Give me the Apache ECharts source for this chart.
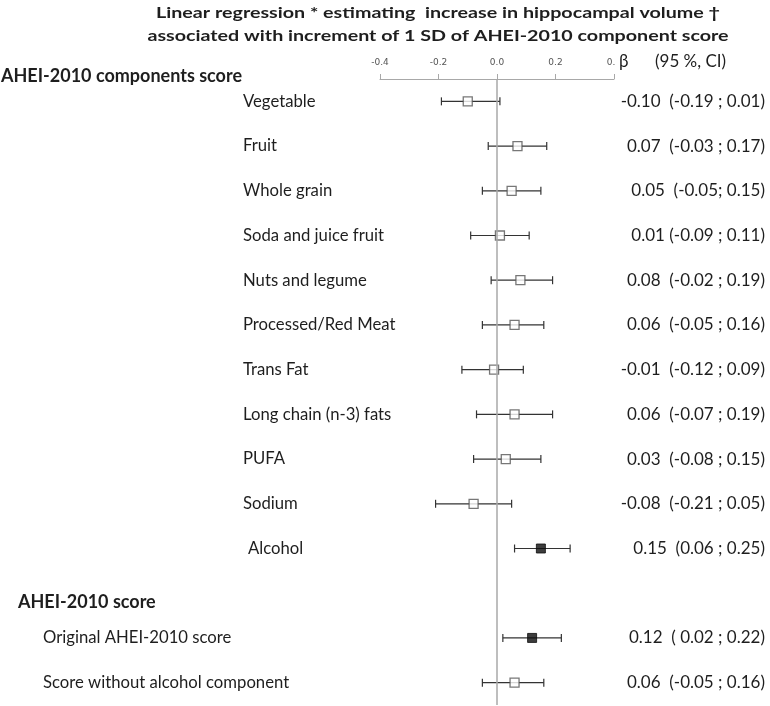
<!DOCTYPE html>
<html>
<head>
<meta charset="utf-8">
<script src="https://cdn.jsdelivr.net/npm/echarts@6/dist/echarts.min.js"></script>
<style>html,body{margin:0;padding:0;background:#fff;}#c{width:770px;height:706px;}</style>
</head>
<body>
<div id="c"></div>
<script>
// Row labels (category order, top to bottom)
var categories = ['Vegetable','Fruit','Whole grain','Soda and juice fruit','Nuts and legume','Processed/Red Meat','Trans Fat','Long chain (n-3) fats','PUFA','Sodium','Alcohol','AHEI-2010 score','Original AHEI-2010 score','Score without alcohol component'];
// Label style per row: c = component, a = alcohol, h = section header, o = overall score
var labelKinds = ['c','c','c','c','c','c','c','c','c','c','a','h','o','o'];
// Beta estimates and 95% CI
var beta  = [-0.10, 0.07, 0.05, 0.01, 0.08, 0.06, -0.01, 0.06, 0.03, -0.08, 0.15, null, 0.12, 0.06];
var lower = [-0.19,-0.03,-0.05,-0.09,-0.02,-0.05,-0.12,-0.07,-0.08,-0.21, 0.06, null, 0.02,-0.05];
var upper = [ 0.01, 0.17, 0.15, 0.11, 0.19, 0.16, 0.09, 0.19, 0.15, 0.05, 0.25, null, 0.22, 0.16];
// Right-hand text column as printed
var resultText = ['-0.10  (-0.19 ; 0.01)','0.07  (-0.03 ; 0.17)','0.05  (-0.05; 0.15)','0.01 (-0.09 ; 0.11)','0.08  (-0.02 ; 0.19)','0.06  (-0.05 ; 0.16)','-0.01  (-0.12 ; 0.09)','0.06  (-0.07 ; 0.19)','0.03  (-0.08 ; 0.15)','-0.08  (-0.21 ; 0.05)','0.15  (0.06 ; 0.25)','','0.12  ( 0.02 ; 0.22)','0.06  (-0.05 ; 0.16)'];
var xTicks = [-0.4, -0.2, 0.0, 0.2, 0.4];
var titleLines = ['Linear regression * estimating  increase in hippocampal volume \u2020','associated with increment of 1 SD of AHEI-2010 component score'];
var sectionHeader = 'AHEI-2010 components score';
var resultHeaderBeta = '\u03b2';
var resultHeaderCI = '(95 %, CI)';

var FONT = 'Lato';
var TXT = '#1e1e1e';

var ciData = [], ptData = [];
for (var i = 0; i < categories.length; i++) {
  if (beta[i] === null) continue;
  ciData.push([lower[i], upper[i], i]);
  var sig = lower[i] > 0;
  ptData.push({
    value: [beta[i], i],
    itemStyle: sig ? {color: '#0d0d0d', borderColor: '#0d0d0d', borderWidth: 1}
                   : {color: '#ffffff', borderColor: '#555555', borderWidth: 1.3}
  });
}

var chart = echarts.init(document.getElementById('c'));
chart.setOption({
  animation: false,
  backgroundColor: '#fff',
  graphic: [
    {type: 'text', x: 438, y: 13, scaleX: 1.23, z: 10,
     style: {text: titleLines[0], font: 'bold 16px Lato', fill: TXT, align: 'center', verticalAlign: 'middle'}},
    {type: 'text', x: 438, y: 36, scaleX: 1.23, z: 10,
     style: {text: titleLines[1], font: 'bold 16px Lato', fill: TXT, align: 'center', verticalAlign: 'middle'}},
    {type: 'text', x: 1, y: 76, z: 10,
     style: {text: sectionHeader, font: 'bold 18px Lato', fill: TXT, align: 'left', verticalAlign: 'middle'}},
    {type: 'text', x: 615, y: 62, z: 10,
     style: {text: resultHeaderBeta, font: '17px Lato', fill: TXT, align: 'left', verticalAlign: 'middle',
             backgroundColor: '#fff', padding: [2, 2, 2, 4]}},
    {type: 'text', x: 655, y: 62, z: 10,
     style: {text: resultHeaderCI, font: '17px Lato', fill: TXT, align: 'left', verticalAlign: 'middle'}}
  ],
  grid: {left: 380, right: 156, top: 79, bottom: 1, containLabel: false},
  xAxis: {
    type: 'value', position: 'top', min: xTicks[0], max: xTicks[xTicks.length - 1], interval: 0.2,
    axisLine: {show: true, lineStyle: {color: '#a8a8a8', width: 1}},
    axisTick: {show: true, length: 5, lineStyle: {color: '#a8a8a8'}},
    splitLine: {show: false},
    axisLabel: {margin: 12, fontFamily: 'DejaVu Sans', fontSize: 9, color: '#555',
      formatter: function (v) { return v.toFixed(1); }}
  },
  yAxis: [{
    type: 'category', data: categories, inverse: true, boundaryGap: true,
    axisLine: {show: false}, axisTick: {show: false}, splitLine: {show: false},
    axisLabel: {
      interval: 0, align: 'left', margin: 378,
      formatter: function (v, idx) { return '{' + labelKinds[idx] + '|' + v + '}'; },
      rich: {
        c: {fontFamily: FONT, fontSize: 16.7, color: TXT, padding: [0, 0, 0, 241]},
        a: {fontFamily: FONT, fontSize: 16.7, color: TXT, padding: [0, 0, 0, 246]},
        h: {fontFamily: FONT, fontSize: 18, fontWeight: 'bold', color: TXT, padding: [18, 0, 0, 16]},
        o: {fontFamily: FONT, fontSize: 16.7, color: TXT, padding: [0, 0, 0, 41]}
      }
    }
  }, {
    type: 'category', data: categories, inverse: true, boundaryGap: true, position: 'right',
    axisLine: {show: false}, axisTick: {show: false}, splitLine: {show: false},
    axisLabel: {
      interval: 0, align: 'right', margin: 151,
      fontFamily: FONT, fontSize: 17, color: TXT,
      formatter: function (v, idx) { return resultText[idx]; }
    }
  }],
  series: [{
    type: 'custom',
    data: ciData,
    encode: {x: [0, 1], y: 2},
    renderItem: function (params, api) {
      var row = api.value(2);
      var a = api.coord([api.value(0), row]);
      var b = api.coord([api.value(1), row]);
      var h = 4;
      var st = {stroke: '#333', lineWidth: 1.2};
      return {type: 'group', children: [
        {type: 'line', shape: {x1: a[0], y1: a[1], x2: b[0], y2: b[1]}, style: st},
        {type: 'line', shape: {x1: a[0], y1: a[1] - h, x2: a[0], y2: a[1] + h}, style: st},
        {type: 'line', shape: {x1: b[0], y1: b[1] - h, x2: b[0], y2: b[1] + h}, style: st}
      ]};
    },
    z: 2
  }, {
    type: 'scatter',
    data: ptData,
    symbol: 'rect', symbolSize: 9,
    z: 3,
    markLine: {
      silent: true, symbol: 'none', label: {show: false},
      lineStyle: {color: '#a8a8a8', width: 1.5, type: 'solid'},
      data: [{xAxis: 0}]
    }
  }]
});
</script>
</body>
</html>
